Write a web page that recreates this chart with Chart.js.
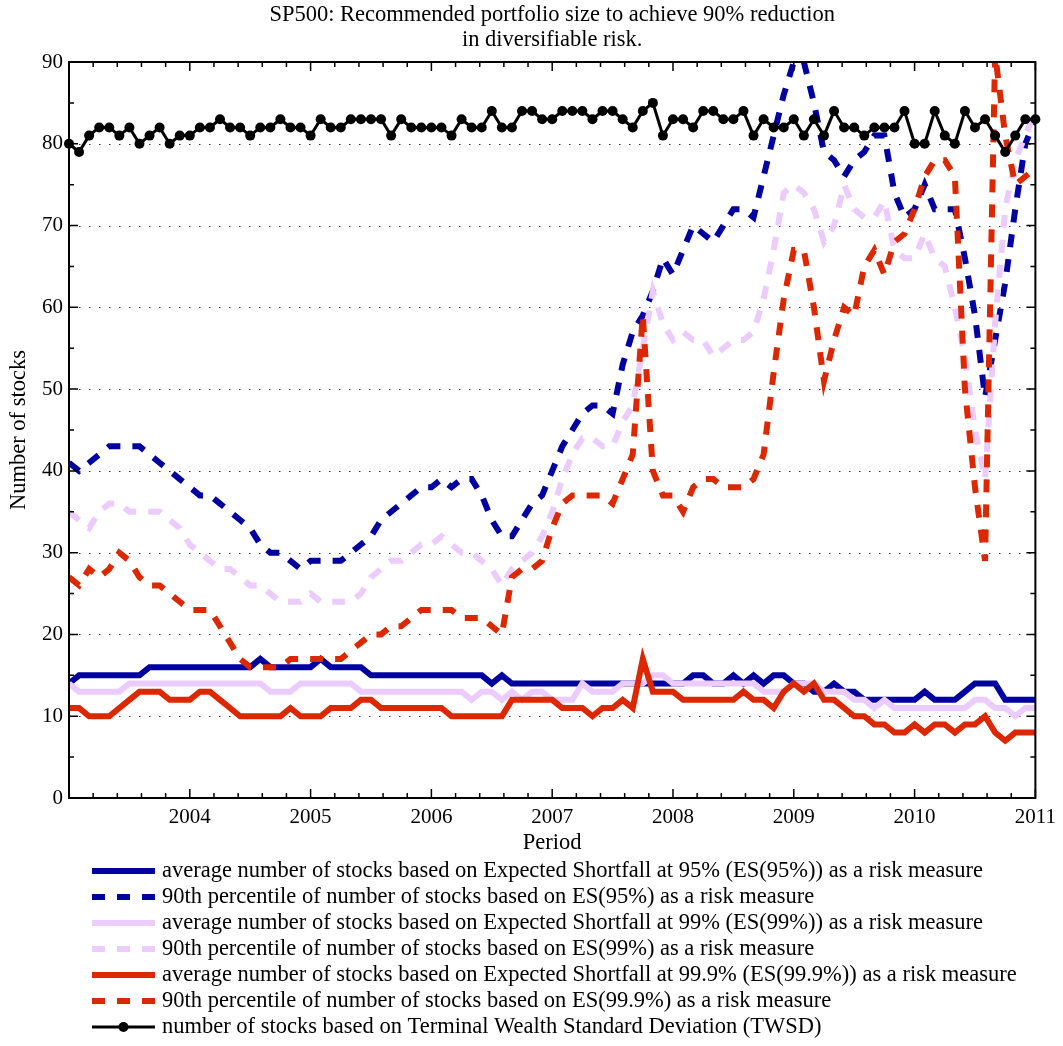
<!DOCTYPE html>
<html>
<head>
<meta charset="utf-8">
<script src="https://cdn.jsdelivr.net/npm/chart.js@4.4.0/dist/chart.umd.min.js"></script>
<style>
html,body{margin:0;padding:0;background:#fff;}
canvas{display:block;}
</style>
</head>
<body>
<canvas id="c" width="1063" height="1046"></canvas>
<script>
// ---------- DATA ----------
const periods = [
 '2003-01','2003-02','2003-03','2003-04','2003-05','2003-06','2003-07','2003-08','2003-09','2003-10','2003-11','2003-12',
 '2004-01','2004-02','2004-03','2004-04','2004-05','2004-06','2004-07','2004-08','2004-09','2004-10','2004-11','2004-12',
 '2005-01','2005-02','2005-03','2005-04','2005-05','2005-06','2005-07','2005-08','2005-09','2005-10','2005-11','2005-12',
 '2006-01','2006-02','2006-03','2006-04','2006-05','2006-06','2006-07','2006-08','2006-09','2006-10','2006-11','2006-12',
 '2007-01','2007-02','2007-03','2007-04','2007-05','2007-06','2007-07','2007-08','2007-09','2007-10','2007-11','2007-12',
 '2008-01','2008-02','2008-03','2008-04','2008-05','2008-06','2008-07','2008-08','2008-09','2008-10','2008-11','2008-12',
 '2009-01','2009-02','2009-03','2009-04','2009-05','2009-06','2009-07','2009-08','2009-09','2009-10','2009-11','2009-12',
 '2010-01','2010-02','2010-03','2010-04','2010-05','2010-06','2010-07','2010-08','2010-09','2010-10','2010-11','2010-12',
 '2011-01'
];

const es95Avg = [
 14,15,15,15,15,15,15,15,16,16, 16,16,16,16,16,16,16,16,16,17,
 16,16,16,16,16,17,16,16,16,16, 15,15,15,15,15,15,15,15,15,15,
 15,15,14,15,14,14,14,14,14,14, 14,14,14,14,14,14,14,14,14,14,
 14,14,15,15,14,14,15,14,15,14, 15,15,14,14,13,13,14,13,13,12,
 12,12,12,12,12,13,12,12,12,13, 14,14,14,12,12,12,12
];
const es95P90 = [
 41,40,41,42,43,43,43,43,42,41, 40,39,38,37,37,36,35,34,33,31,
 30,30,29,28,29,29,29,29,30,31, 32,34,35,36,37,38,38,39,38,39,
 39,37,34,32,32,34,36,37,40,43, 45,47,48,48,47,53,57,59,62,66,
 64,67,70,69,68,70,72,72,71,76, 81,86,90,90,85,79,78,76,78,79,
 81,81,74,71,72,75,72,72,72,66, 59,49,56,63,72,80,83
];
const es99Avg = [
 14,13,13,13,13,13,14,14,14,14, 14,14,14,14,14,14,14,14,14,14,
 13,13,13,14,14,14,14,14,14,13, 13,13,13,13,13,13,13,13,13,13,
 12,13,13,12,13,12,13,13,12,12, 12,14,13,13,13,14,14,14,15,15,
 14,14,14,14,14,14,14,14,14,13, 13,13,14,14,14,13,13,13,12,12,
 11,12,11,11,11,11,11,11,11,11, 12,12,11,11,10,11,11
];
const es99P90 = [
 35,34,33,35,36,36,35,35,35,35, 34,33,31,30,29,28,28,27,26,26,
 25,24,24,24,25,24,24,24,24,25, 27,28,29,29,30,31,31,32,31,30,
 30,29,28,26,28,29,30,32,35,39, 42,44,44,43,43,46,48,55,62,58,
 56,57,56,56,54,55,56,56,57,61, 67,74,75,74,72,68,70,75,72,71,
 71,73,67,66,66,69,66,65,60,54, 45,39,58,72,78,81,84
];
const es999Avg = [
 11,11,10,10,10,11,12,13,13,13, 12,12,12,13,13,12,11,10,10,10,
 10,10,11,10,10,10,11,11,11,12, 12,11,11,11,11,11,11,11,10,10,
 10,10,10,10,12,12,12,12,12,11, 11,11,10,11,11,12,11,17,13,13,
 13,12,12,12,12,12,12,13,12,12, 11,13,14,13,14,12,12,11,10,10,
 9,9,8,8,9,8,9,9,8,9, 9,10,8,7,8,8,8
];
const es999P90 = [
 27,26,28,27,28,30,29,27,26,26, 25,24,23,23,23,21,19,17,16,16,
 16,16,17,17,17,17,17,17,18,19, 20,20,21,21,22,23,23,23,23,22,
 22,22,21,20,27,28,28,29,33,36, 37,37,37,37,36,39,42,59,40,37,
 37,35,38,39,39,38,38,38,39,42, 52,61,67,67,60,51,56,60,59,65,
 67,64,68,69,72,76,78,78,76,50, 38,29,91,81,75,76,77
];
const twsd = [
 80,79,81,82,82,81,82,80,81,82, 80,81,81,82,82,83,82,82,81,82,
 82,83,82,82,81,83,82,82,83,83, 83,83,81,83,82,82,82,82,81,83,
 82,82,84,82,82,84,84,83,83,84, 84,84,83,84,84,83,82,84,85,81,
 83,83,82,84,84,83,83,84,81,83, 82,82,83,81,83,81,84,82,82,81,
 82,82,82,84,80,80,84,81,80,84, 82,83,81,79,81,83,83
];

const xTickLabels = ['2004','2005','2006','2007','2008','2009','2010','2011'];
const yTickValues = [0,10,20,30,40,50,60,70,80,90];
const yGridValues = [10,20,30,40,50,60,70,80];

const titleLines = ['SP500: Recommended portfolio size to achieve 90% reduction', 'in diversifiable risk.'];
const xTitle = 'Period';
const yTitle = 'Number of stocks';
const seriesLabels = [
 'average number of stocks based on Expected Shortfall at 95% (ES(95%)) as a risk measure',
 '90th percentile of number of stocks based on ES(95%) as a risk measure',
 'average number of stocks based on Expected Shortfall at 99% (ES(99%)) as a risk measure',
 '90th percentile of number of stocks based on ES(99%) as a risk measure',
 'average number of stocks based on Expected Shortfall at 99.9% (ES(99.9%)) as a risk measure',
 '90th percentile of number of stocks based on ES(99.9%) as a risk measure',
 'number of stocks based on Terminal Wealth Standard Deviation (TWSD)'
];

// ---------- STYLE ----------
const FONT = '"Liberation Serif", "Times New Roman", Times, serif';
const BLUE = '#0000A0', LAV = '#ECCCFF', RED = '#DC2800', BLACK = '#000000';
const DASH = [13, 12];
const LW = 6;

const periodX = periods.map(p => Number(p.slice(0,4)) + (Number(p.slice(5,7)) - 1) / 12);
const toPts = vals => vals.map((v, i) => ({x: periodX[i], y: v}));

function lineDs(label, vals, color, dashed, order) {
  return {
    label, data: toPts(vals), borderColor: color, backgroundColor: color,
    borderWidth: LW, borderDash: dashed ? DASH : [], borderCapStyle: 'butt',
    pointRadius: 0, pointHoverRadius: 0, tension: 0, order, clip: 0, fill: false
  };
}

const datasets = [
  lineDs(seriesLabels[0], es95Avg, BLUE, false, 7),
  lineDs(seriesLabels[1], es95P90, BLUE, true, 6),
  lineDs(seriesLabels[2], es99Avg, LAV, false, 5),
  lineDs(seriesLabels[3], es99P90, LAV, true, 4),
  lineDs(seriesLabels[4], es999Avg, RED, false, 3),
  lineDs(seriesLabels[5], es999P90, RED, true, 2),
  {
    label: seriesLabels[6], data: toPts(twsd), borderColor: BLACK, backgroundColor: BLACK,
    borderWidth: 3, pointRadius: 5, pointBorderWidth: 0, pointBackgroundColor: BLACK,
    pointHoverRadius: 5, tension: 0, order: 1, clip: false, fill: false
  }
];

// ---------- PLUGINS ----------
const decorPlugin = {
  id: 'decor',
  beforeDatasetsDraw(chart) {
    const {ctx, chartArea: a, scales: {y}} = chart;
    ctx.save();
    ctx.strokeStyle = '#333';
    ctx.lineWidth = 1;
    ctx.setLineDash([1.5, 8.5]);
    yGridValues.forEach(v => {
      const py = Math.round(y.getPixelForValue(v)) + 0.5;
      ctx.beginPath(); ctx.moveTo(a.left, py); ctx.lineTo(a.right, py); ctx.stroke();
    });
    ctx.restore();
  },
  afterDatasetsDraw(chart) {
    const {ctx, chartArea: a, scales: {x, y}} = chart;
    ctx.save();
    ctx.setLineDash([]);
    ctx.strokeStyle = '#000';
    ctx.lineWidth = 1.5;
    ctx.beginPath();
    for (let k = 0; k <= 40; k++) {
      const px = x.getPixelForValue(x.min + k * 0.2);
      const L = (k % 5 === 0) ? 9 : 5;
      ctx.moveTo(px, a.bottom); ctx.lineTo(px, a.bottom - L);
      ctx.moveTo(px, a.top); ctx.lineTo(px, a.top + L);
    }
    for (let v = y.min; v <= y.max; v += 5) {
      const py = y.getPixelForValue(v);
      const L = (v % 10 === 0) ? 9 : 5;
      ctx.moveTo(a.left, py); ctx.lineTo(a.left + L, py);
      ctx.moveTo(a.right, py); ctx.lineTo(a.right - L, py);
    }
    ctx.stroke();
    ctx.lineWidth = 2;
    ctx.strokeRect(a.left, a.top, a.right - a.left, a.bottom - a.top);
    ctx.restore();
  },
  afterDraw(chart) {
    const {ctx, chartArea: a} = chart;
    const cx = (a.left + a.right) / 2;
    ctx.save();
    ctx.fillStyle = '#000';
    ctx.textBaseline = 'middle';
    // title
    ctx.font = '22.5px ' + FONT;
    ctx.textAlign = 'center';
    ctx.fillText(titleLines[0], cx, 15);
    ctx.fillText(titleLines[1], cx, 40);
    // axis titles
    ctx.fillText(xTitle, cx, 843);
    ctx.save();
    ctx.translate(19, (a.top + a.bottom) / 2);
    ctx.rotate(-Math.PI / 2);
    ctx.fillText(yTitle, 0, 0);
    ctx.restore();
    // legend
    const x0 = 92, x1 = 155, tx = 162, rowY0 = 871, rowH = 26;
    chart.data.datasets.forEach((ds, i) => {
      const ry = rowY0 + i * rowH;
      ctx.save();
      ctx.strokeStyle = ds.borderColor;
      ctx.lineWidth = ds.borderWidth;
      ctx.lineCap = 'butt';
      ctx.setLineDash(ds.borderDash || []);
      ctx.beginPath(); ctx.moveTo(x0, ry); ctx.lineTo(x1, ry); ctx.stroke();
      if (ds.pointRadius > 0) {
        ctx.setLineDash([]);
        ctx.fillStyle = ds.pointBackgroundColor;
        ctx.beginPath(); ctx.arc((x0 + x1) / 2, ry, ds.pointRadius, 0, Math.PI * 2); ctx.fill();
      }
      ctx.restore();
      ctx.textAlign = 'left';
      ctx.fillText(ds.label, tx, ry);
    });
    ctx.restore();
  }
};

Chart.defaults.font.family = FONT;
Chart.defaults.color = '#000';

new Chart(document.getElementById('c'), {
  type: 'line',
  data: { datasets },
  options: {
    responsive: false,
    animation: false,
    devicePixelRatio: 1,
    layout: { padding: { top: 62, left: 0, right: 26, bottom: 188 } },
    plugins: { legend: { display: false }, tooltip: { enabled: false }, title: { display: false } },
    events: [],
    scales: {
      x: {
        type: 'linear', min: 2003, max: 2011,
        grid: { display: false, drawTicks: false }, border: { display: false },
        ticks: {
          stepSize: 1, autoSkip: false, maxRotation: 0, padding: 7,
          font: { size: 21 }, color: '#000',
          callback: v => xTickLabels.includes(String(v)) ? String(v) : ''
        },
        afterFit(s) { s.height = 60; }
      },
      y: {
        type: 'linear', min: 0, max: 90,
        grid: { display: false, drawTicks: false }, border: { display: false },
        ticks: {
          stepSize: 10, padding: 6, font: { size: 21 }, color: '#000',
          callback: v => yTickValues.includes(v) ? String(v) : ''
        },
        afterFit(s) { s.width = 69; }
      }
    }
  },
  plugins: [decorPlugin]
});
</script>
</body>
</html>
